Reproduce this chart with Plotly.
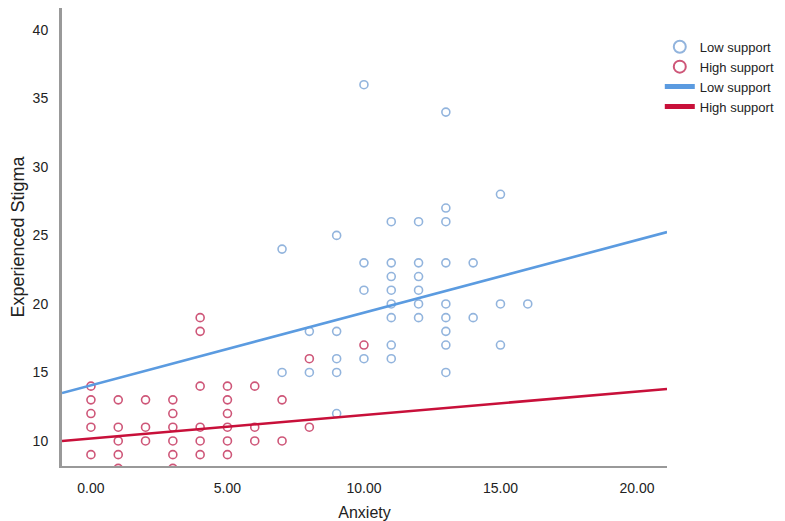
import plotly.graph_objects as go

# Anxiety (x) and Experienced Stigma (y) per group
low_x = [7, 7, 8, 8, 9, 9, 9, 9, 9,
         10, 10, 10, 10,
         11, 11, 11, 11, 11, 11, 11, 11,
         12, 12, 12, 12, 12, 12,
         13, 13, 13, 13, 13, 13, 13, 13, 13,
         14, 14, 15, 15, 15, 16]
low_y = [24, 15, 18, 15, 25, 18, 16, 15, 12,
         36, 23, 21, 16,
         26, 23, 22, 21, 20, 19, 17, 16,
         26, 23, 22, 21, 20, 19,
         34, 27, 26, 23, 20, 19, 18, 17, 15,
         23, 19, 28, 20, 17, 20]

high_x = [0, 0, 0, 0, 0,
          1, 1, 1, 1, 1,
          2, 2, 2,
          3, 3, 3, 3, 3, 3,
          4, 4, 4, 4, 4, 4,
          5, 5, 5, 5, 5, 5,
          6, 6, 6,
          7, 7,
          8, 8,
          10]
high_y = [14, 13, 12, 11, 9,
          13, 11, 10, 9, 8,
          13, 11, 10,
          13, 12, 11, 10, 9, 8,
          19, 18, 14, 11, 10, 9,
          14, 13, 12, 11, 10, 9,
          14, 11, 10,
          13, 10,
          16, 11,
          17]

# Fit lines (intercept, slope) per group
low_fit = (14.06, 0.53)
high_fit = (10.18, 0.171)

x_range = [-1.06, 21.1]
y_range = [8.17, 41.6]

blue_pt = "rgba(110,155,210,0.75)"
red_pt = "rgba(190,30,75,0.75)"
blue_ln = "#5b9be0"
red_ln = "#c8103a"

fig = go.Figure()

fig.add_trace(go.Scatter(
    x=low_x, y=low_y, mode="markers", name="Low support",
    marker=dict(symbol="circle-open", size=8, color=blue_pt, line=dict(width=1.6)),
))
fig.add_trace(go.Scatter(
    x=high_x, y=high_y, mode="markers", name="High support",
    marker=dict(symbol="circle-open", size=8, color=red_pt, line=dict(width=1.6)),
))

lx = [x_range[0], x_range[1]]
fig.add_trace(go.Scatter(
    x=lx, y=[low_fit[0] + low_fit[1] * v for v in lx], mode="lines",
    name="Low support", line=dict(color=blue_ln, width=2.6),
))
fig.add_trace(go.Scatter(
    x=lx, y=[high_fit[0] + high_fit[1] * v for v in lx], mode="lines",
    name="High support", line=dict(color=red_ln, width=2.6),
))

font_family = "Liberation Sans, Arial, sans-serif"

fig.update_layout(
    width=785, height=521,
    margin=dict(l=62, r=118, t=8, b=55, autoexpand=False),
    paper_bgcolor="white", plot_bgcolor="white",
    font=dict(family=font_family, size=14, color="#222"),
    showlegend=True,
    legend=dict(
        xref="container", yref="container",
        x=0.8405, y=0.939, xanchor="left", yanchor="top",
        font=dict(size=13, color="#222"),
        tracegroupgap=0, itemwidth=30, itemsizing="constant",
        bgcolor="rgba(0,0,0,0)",
    ),
    xaxis=dict(
        range=x_range, tickvals=[0, 5, 10, 15, 20],
        ticktext=["0.00", "5.00", "10.00", "15.00", "20.00"],
        showgrid=False, zeroline=False,
        showline=True, linecolor="#999", linewidth=1.5,
        ticks="", ticklabelstandoff=8, tickfont=dict(size=14),
        title=dict(text="Anxiety", font=dict(size=16), standoff=12),
    ),
    yaxis=dict(
        range=y_range, tickvals=[10, 15, 20, 25, 30, 35, 40],
        showgrid=False, zeroline=False,
        showline=True, linecolor="#999", linewidth=3,
        ticks="", ticklabelstandoff=8, tickfont=dict(size=14),
        title=dict(text="Experienced Stigma", font=dict(size=18), standoff=4),
    ),
)

fig.write_html("out.html")
